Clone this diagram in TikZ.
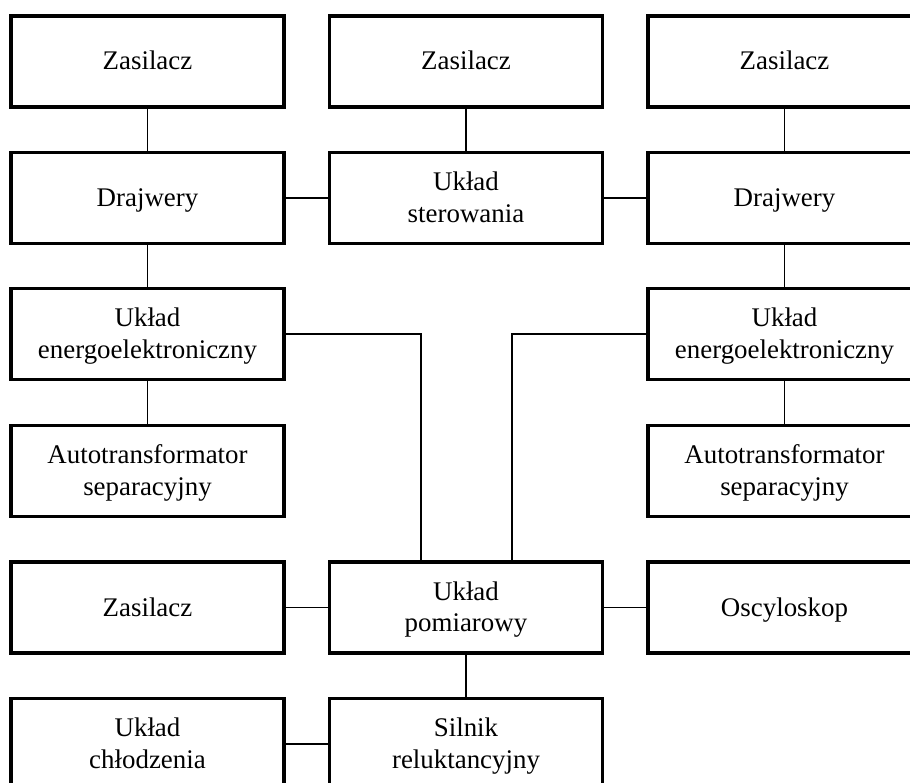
\documentclass[tikz,border=0pt]{standalone}
\usepackage{fontspec}
\setmainfont{Liberation Serif}
% line strut: keeps single- and two-line labels on the same baseline grid
\newcommand{\lstrut}{\rule[-7bp]{0pt}{31bp}}
\begin{document}
\begin{tikzpicture}[x=1bp,y=-1bp,
  blok/.style={draw=black, line width=3.2bp, minimum width=273bp, minimum height=91bp,
    inner sep=0pt, align=center, font=\fontsize{27}{31.5}\selectfont},
  lacz/.style={draw=black, line width=1.8bp}]
  \useasboundingbox (0,0) rectangle (910,783);
  \fill[white] (0,0) rectangle (910,783);
  \clip (0,0) rectangle (910,783);

  % column centres
  \def\xl{147.5}\def\xm{466}\def\xr{784.5}

  \node[blok] (zasL) at (\xl,61.5) {\lstrut Zasilacz};
  \node[blok] (zasM) at (\xm,61.5) {\lstrut Zasilacz};
  \node[blok] (zasR) at (\xr,61.5) {\lstrut Zasilacz};

  \node[blok] (drL) at (\xl,198) {\lstrut Drajwery};
  \node[blok] (ster) at (\xm,198) {\lstrut Układ\\\lstrut sterowania};
  \node[blok] (drR) at (\xr,198) {\lstrut Drajwery};

  \node[blok] (enL) at (\xl,334) {\lstrut Układ\\\lstrut energoelektroniczny};
  \node[blok] (enR) at (\xr,334) {\lstrut Układ\\\lstrut energoelektroniczny};

  \node[blok] (atL) at (\xl,471) {\lstrut Autotransformator\\\lstrut separacyjny};
  \node[blok] (atR) at (\xr,471) {\lstrut Autotransformator\\\lstrut separacyjny};

  \node[blok] (zasB) at (\xl,607.5) {\lstrut Zasilacz};
  \node[blok] (pom) at (\xm,607.5) {\lstrut Układ\\\lstrut pomiarowy};
  \node[blok] (osc) at (\xr,607.5) {\lstrut Oscyloskop};

  \node[blok] (chl) at (\xl,744) {\lstrut Układ\\\lstrut chłodzenia};
  \node[blok] (sil) at (\xm,744) {\lstrut Silnik\\\lstrut reluktancyjny};

  % taps on top of the measuring block
  \coordinate (pomA) at ([xshift=-45bp]pom.north);
  \coordinate (pomB) at ([xshift=46bp]pom.north);

  \draw[lacz] (zasL) -- (drL);
  \draw[lacz] (zasM) -- (ster);
  \draw[lacz] (zasR) -- (drR);
  \draw[lacz] (drL) -- (ster);
  \draw[lacz] (ster) -- (drR);
  \draw[lacz] (drL) -- (enL);
  \draw[lacz] (drR) -- (enR);
  \draw[lacz] (enL) -- (atL);
  \draw[lacz] (enR) -- (atR);
  \draw[lacz] (enL.east) -| (pomA);
  \draw[lacz] (enR.west) -| (pomB);
  \draw[lacz] (zasB) -- (pom);
  \draw[lacz] (pom) -- (osc);
  \draw[lacz] (pom) -- (sil);
  \draw[lacz] (chl) -- (sil);
\end{tikzpicture}
\end{document}
